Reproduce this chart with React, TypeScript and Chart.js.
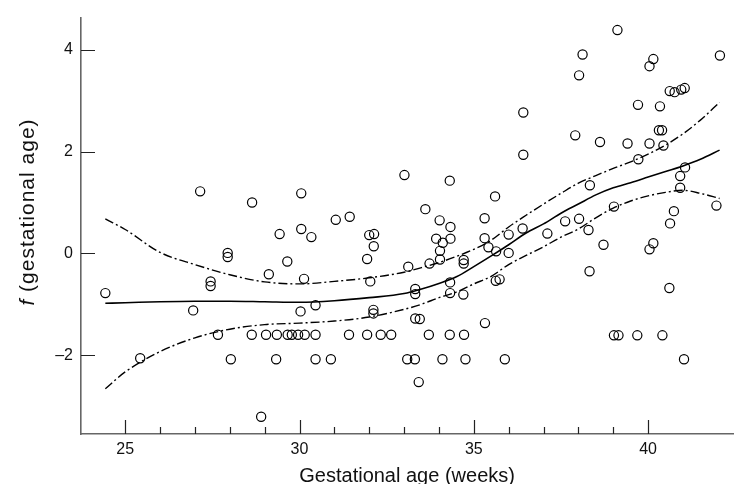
import React, { useEffect, useRef } from "react";
import { Chart, registerables } from "chart.js";

Chart.register(...registerables);

// ---- Data ----
const pointX: number[] = [
  27.15, 28.64, 30.05, 29.43, 30.05, 30.34, 27.94, 27.94, 29.65, 29.12,
  30.13, 27.45, 27.45, 24.43, 26.95, 30.03, 27.66, 28.63, 29.04, 29.35,
  29.66, 29.78, 29.96, 30.15, 25.43, 28.03, 29.33, 28.9,
  31.04, 31.44, 33.01, 34.31, 35.61, 33.61, 34.02, 34.33, 35.31, 32.0,
  32.14, 32.13, 31.94, 33.92, 34.11, 34.33, 34.03, 34.03, 33.12, 33.73,
  34.71, 34.71, 35.31, 35.42, 35.64, 36.0, 36.0,
  32.03, 34.32, 35.63, 35.74, 33.32, 33.32, 34.32, 34.7, 30.46, 32.12,
  32.12, 33.32, 33.45, 35.32,
  30.46, 31.42, 31.94, 32.33, 32.63, 33.71, 34.31, 34.72,
  30.46, 30.9, 33.09, 33.31, 34.1, 34.76, 35.89, 33.42,
  39.12, 38.12, 42.06, 40.15, 40.04, 38.02, 40.62, 40.76, 40.95, 41.05,
  36.42, 39.71, 40.34, 40.31, 40.4, 37.91, 38.62, 39.41, 40.04, 40.44,
  36.42, 39.72, 41.06, 40.92, 40.92, 38.33, 41.96, 40.74, 40.63, 39.02,
  36.4, 37.11, 37.62, 38.02, 38.29, 38.72, 40.15, 40.04, 38.32, 40.61,
  39.02, 39.15, 39.69, 40.41, 41.03,
];
const pointY: number[] = [
  1.22, 1.0, 1.18, 0.38, 0.48, 0.32, 0.01, -0.07, -0.16, -0.41,
  -0.5, -0.55, -0.64, -0.78, -1.12, -1.14, -1.6, -1.6, -1.6, -1.6,
  -1.6, -1.6, -1.6, -1.6, -2.06, -2.08, -2.08, -3.21,
  0.66, 0.72, 1.54, 1.43, 1.12, 0.87, 0.65, 0.52, 0.69, 0.36,
  0.38, 0.14, -0.11, 0.29, 0.21, 0.29, 0.05, -0.12, -0.26, -0.2,
  -0.13, -0.2, 0.3, 0.12, 0.04, 0.37, 0.01,
  -0.55, -0.57, -0.54, -0.51, -0.7, -0.8, -0.78, -0.81, -1.02, -1.11,
  -1.18, -1.28, -1.29, -1.37,
  -1.6, -1.6, -1.6, -1.6, -1.6, -1.6, -1.6, -1.6,
  -2.08, -2.08, -2.08, -2.08, -2.08, -2.08, -2.08, -2.53,
  4.39, 3.91, 3.89, 3.82, 3.68, 3.5, 3.19, 3.17, 3.22, 3.25,
  2.77, 2.92, 2.89, 2.42, 2.42, 2.32, 2.19, 2.16, 2.16, 2.12,
  1.94, 1.85, 1.69, 1.52, 1.29, 1.34, 0.94, 0.83, 0.59, 0.92,
  0.49, 0.39, 0.63, 0.68, 0.46, 0.17, 0.2, 0.08, -0.35, -0.68,
  -1.61, -1.61, -1.61, -1.61, -2.08,
];

const curveX: number[] = [
  24.43, 25, 26, 27, 28, 29, 30, 31, 32, 33, 33.5, 34, 34.5, 35, 35.5,
  36, 36.5, 37, 37.5, 38, 38.5, 39, 39.5, 40, 40.5, 41, 41.5, 42.05,
];
const fitY: number[] = [
  -0.98, -0.97, -0.95, -0.94, -0.94, -0.95, -0.96, -0.93, -0.87, -0.79, -0.7, -0.59, -0.46, -0.26, -0.05,
  0.17, 0.4, 0.58, 0.79, 0.97, 1.15, 1.29, 1.39, 1.5, 1.61, 1.72, 1.85, 2.03,
];
const upperY: number[] = [
  0.68, 0.47, 0.02, -0.22, -0.42, -0.56, -0.6, -0.55, -0.48, -0.37, -0.28, -0.18, -0.06, 0.08, 0.26,
  0.52, 0.75, 0.97, 1.18, 1.38, 1.53, 1.67, 1.8, 1.95, 2.13, 2.35, 2.62, 2.97,
];
const lowerY: number[] = [
  -2.66, -2.33, -1.93, -1.66, -1.49, -1.4, -1.37, -1.33, -1.25, -1.1, -1.0, -0.87, -0.76, -0.6, -0.45,
  -0.22, -0.04, 0.13, 0.32, 0.48, 0.7, 0.89, 1.03, 1.13, 1.2, 1.24, 1.18, 1.08,
];

const xMajorTicks: number[] = [25, 30, 35, 40];
const xMinorTicks: number[] = [26, 27, 28, 29, 31, 32, 33, 34, 36, 37, 38, 39];
const yTicks: number[] = [-2, 0, 2, 4];

const xTitle = "Gestational age (weeks)";
const yTitleItalic = "f";
const yTitleRest = " (gestational age)";

const FONT = "'Liberation Sans', Arial, Helvetica, sans-serif";

const tickPlugin = {
  id: "inwardTicks",
  afterDraw(chart: any) {
    const { ctx, chartArea, scales } = chart;
    const xs = scales.x;
    const ys = scales.y;
    ctx.save();
    ctx.strokeStyle = "#222";
    ctx.lineWidth = 1.2;
    ctx.beginPath();
    const bottom = chartArea.bottom;
    xMajorTicks.forEach((v) => {
      const px = Math.round(xs.getPixelForValue(v)) + 0.5;
      ctx.moveTo(px, bottom);
      ctx.lineTo(px, bottom - 14);
    });
    xMinorTicks.forEach((v) => {
      const px = Math.round(xs.getPixelForValue(v)) + 0.5;
      ctx.moveTo(px, bottom);
      ctx.lineTo(px, bottom - 7);
    });
    const left = chartArea.left;
    yTicks.forEach((v) => {
      const py = Math.round(ys.getPixelForValue(v)) + 0.5;
      ctx.moveTo(left, py);
      ctx.lineTo(left + 14, py);
    });
    ctx.stroke();

    // titles
    ctx.fillStyle = "#111";
    ctx.textBaseline = "middle";
    ctx.textAlign = "center";
    ctx.font = `20px ${FONT}`;
    ctx.fillText(xTitle, (chartArea.left + chartArea.right) / 2, 476);

    ctx.save();
    ctx.translate(28.5, 212);
    ctx.rotate(-Math.PI / 2);
    ctx.textAlign = "left";
    try {
      (ctx as any).letterSpacing = "1px";
    } catch (e) {}
    ctx.font = `italic 21px ${FONT}`;
    const wf = ctx.measureText(yTitleItalic).width;
    ctx.font = `21px ${FONT}`;
    const wr = ctx.measureText(yTitleRest).width;
    const start = -(wf + wr) / 2;
    ctx.font = `italic 21px ${FONT}`;
    ctx.fillText(yTitleItalic, start, 0);
    ctx.font = `21px ${FONT}`;
    ctx.fillText(yTitleRest, start + wf, 0);
    ctx.restore();
    ctx.restore();
  },
};

export default function App() {
  const ref = useRef<HTMLCanvasElement | null>(null);

  useEffect(() => {
    if (!ref.current) return;
    const pts = pointX.map((x, i) => ({ x, y: pointY[i] }));
    const mk = (ys: number[]) => curveX.map((x, i) => ({ x, y: ys[i] }));
    const dashDot = [9, 3, 2, 3];
    const chart = new Chart(ref.current, {
      type: "scatter",
      data: {
        datasets: [
          {
            type: "line",
            data: mk(fitY),
            borderColor: "#000",
            borderWidth: 1.6,
            pointRadius: 0,
            fill: false,
            cubicInterpolationMode: "monotone",
          } as any,
          {
            type: "line",
            data: mk(upperY),
            borderColor: "#000",
            borderWidth: 1.4,
            borderDash: dashDot,
            pointRadius: 0,
            fill: false,
            cubicInterpolationMode: "monotone",
          } as any,
          {
            type: "line",
            data: mk(lowerY),
            borderColor: "#000",
            borderWidth: 1.4,
            borderDash: dashDot,
            pointRadius: 0,
            fill: false,
            cubicInterpolationMode: "monotone",
          } as any,
          {
            type: "scatter",
            data: pts,
            pointRadius: 4.6,
            pointBorderWidth: 1.2,
            borderColor: "#000",
            backgroundColor: "rgba(0,0,0,0)",
            pointStyle: "circle",
          } as any,
        ],
      },
      options: {
        animation: false,
        responsive: false,
        devicePixelRatio: 1,
        layout: { padding: { top: 15, left: 0, right: 0, bottom: 0 } },
        plugins: {
          legend: { display: false },
          tooltip: { enabled: false },
          title: { display: false },
        },
        scales: {
          x: {
            type: "linear",
            min: 23.732,
            max: 42.441,
            afterFit: (s: any) => {
              s.height = 50;
            },
            afterBuildTicks: (s: any) => {
              s.ticks = xMajorTicks.map((v) => ({ value: v }));
            },
            grid: { display: false, drawTicks: false },
            border: { display: true, color: "#666", width: 1.6 },
            ticks: {
              padding: 6,
              color: "#111",
              font: { family: FONT, size: 16 },
              maxRotation: 0,
              autoSkip: false,
              callback: (v: any) => String(v),
            },
          },
          y: {
            type: "linear",
            min: -3.55,
            max: 4.635,
            afterFit: (s: any) => {
              s.width = 81;
            },
            afterBuildTicks: (s: any) => {
              s.ticks = yTicks.map((v) => ({ value: v }));
            },
            grid: { display: false, drawTicks: false },
            border: { display: true, color: "#666", width: 1.6 },
            ticks: {
              padding: 8,
              color: "#111",
              font: { family: FONT, size: 16 },
              autoSkip: false,
              callback: (v: any) => (v < 0 ? "\u2013" + Math.abs(v) : String(v)),
            },
          },
        },
      },
      plugins: [tickPlugin],
    });
    return () => chart.destroy();
  }, []);

  return (
    <div style={{ position: "fixed", left: 0, top: 0, width: 739, height: 484, background: "#fff" }}>
      <canvas ref={ref} width={739} height={484} style={{ width: 739, height: 484, display: "block" }} />
    </div>
  );
}
